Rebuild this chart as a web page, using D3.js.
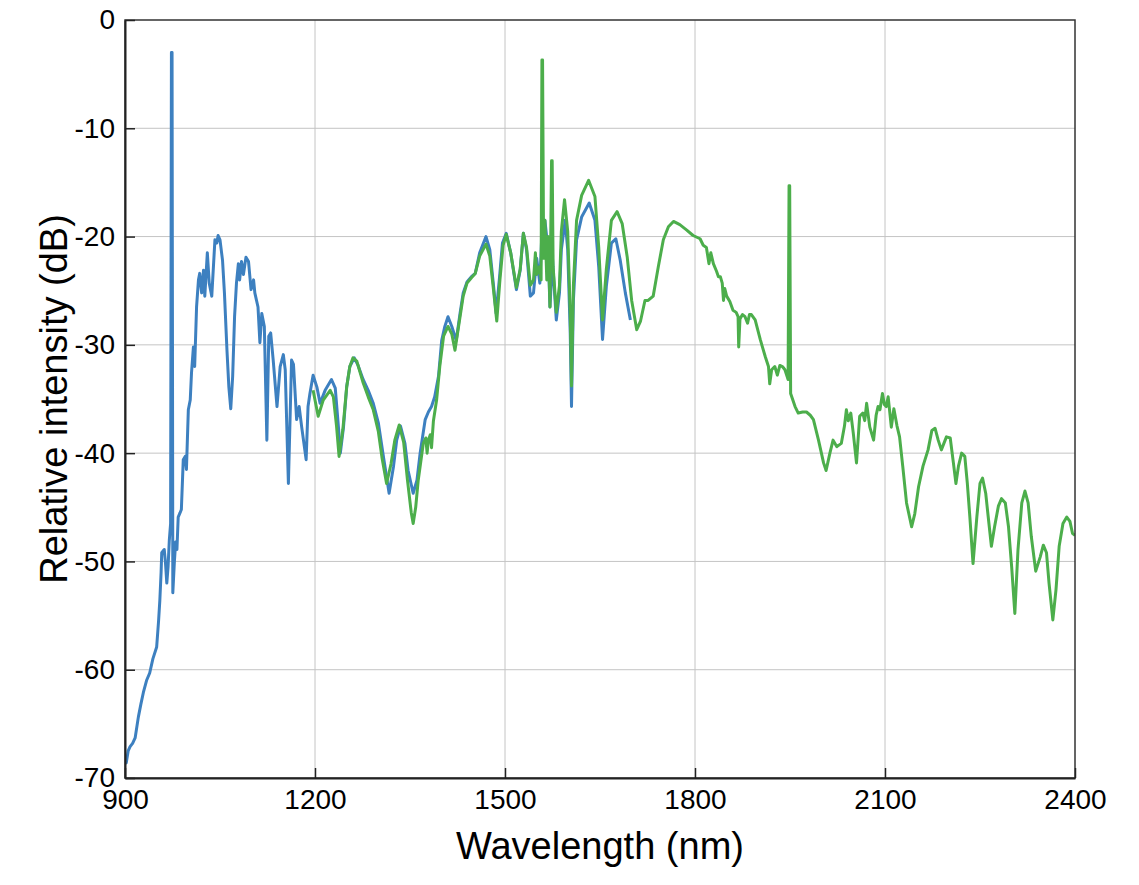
<!DOCTYPE html>
<html lang="en">
<head>
<meta charset="UTF-8">
<title>Spectrum</title>
<style>
  body { margin: 0; background: #fff; }
  svg { font-family: "Liberation Sans", Arial, Helvetica, sans-serif; }
</style>
</head>
<body>
<svg width="1139" height="885"></svg>
<script src="https://cdn.jsdelivr.net/npm/d3@7"></script>
<script>
// wavelength (nm), relative intensity (dB)
var blueSpectrum = [
  [900,-68.3],[902,-68.6],[905,-67.5],[908,-67.1],[912,-66.8],[916,-66.3],[921,-64.4],[925,-63.2],[929,-62.1],[934,-61.0],
  [939,-60.3],[944,-59.0],[950,-57.9],[953,-55.5],[955,-53.6],[957,-51.0],[958,-49.2],[962,-48.9],[964,-50.2],[966,-52.0],
  [968,-50.5],[970,-48.0],[972,-46.5],[973.3,-3],[974.3,-3],[975.5,-52.9],[978,-50.0],[980,-48.2],[982,-48.9],[984,-45.9],
  [987,-45.5],[989,-45.2],[992,-40.6],[995,-40.3],[997,-41.5],[1000,-36.0],[1003,-35.1],[1005,-32.6],[1008,-30.2],[1010,-32.0],
  [1013,-26.5],[1016,-24.0],[1018,-23.4],[1021,-25.2],[1024,-23.1],[1026,-25.5],[1030,-21.5],[1033,-24.3],[1037,-25.5],[1042,-20.3],
  [1045,-20.6],[1047,-19.9],[1050,-20.3],[1054,-22.2],[1057,-25.2],[1061,-30.5],[1064,-33.9],[1067,-35.9],[1070,-32.9],[1073,-27.4],
  [1076,-24.3],[1079,-22.5],[1081,-24.0],[1084,-22.3],[1087,-23.5],[1091,-21.9],[1095,-22.3],[1099,-24.9],[1103,-24.0],[1105,-25.2],
  [1110,-26.5],[1113,-29.8],[1116,-27.1],[1120,-28.3],[1124,-38.8],[1127,-29.2],[1130,-28.9],[1134,-31.4],[1140,-35.7],[1145,-32.0],
  [1150,-30.9],[1153,-32.3],[1158,-42.8],[1163,-31.4],[1166,-31.8],[1171,-36.9],[1175,-35.7],[1179,-37.6],[1186,-40.6],[1189,-35.7],
  [1192,-34.5],[1197,-32.8],[1203,-33.9],[1208,-35.4],[1216,-34.2],[1226,-33.2],[1232,-34.0],[1237,-37.6],[1240,-40.0],[1245,-37.6],
  [1250,-33.9],[1255,-32.0],[1262,-31.2],[1268,-31.9],[1276,-33.2],[1284,-34.2],[1292,-35.4],[1300,-37.2],[1308,-40.3],[1317,-43.7],
  [1324,-41.2],[1329,-38.8],[1335,-37.5],[1342,-39.1],[1347,-41.6],[1355,-43.7],[1361,-42.5],[1366,-40.0],[1374,-36.9],[1379,-36.2],
  [1384,-35.7],[1389,-34.8],[1395,-32.9],[1400,-29.6],[1405,-28.3],[1410,-27.4],[1416,-28.3],[1423,-29.6],[1429,-27.1],[1434,-25.2],
  [1440,-24.2],[1447,-23.7],[1453,-23.4],[1460,-21.5],[1470,-20.0],[1476,-21.2],[1482,-24.6],[1486,-27.1],[1491,-24.0],[1496,-20.6],
  [1502,-19.7],[1509,-21.5],[1518,-24.9],[1524,-23.1],[1529,-19.7],[1534,-21.2],[1540,-25.5],[1545,-25.2],[1550,-22.0],[1555,-24.3],
  [1558,-20.0],[1563,-18.5],[1568,-21.2],[1571,-26.5],[1575,-22.0],[1577,-24.0],[1581,-27.7],[1586,-25.2],[1589,-21.2],[1595,-18.5],
  [1599,-21.2],[1603,-28.9],[1605,-35.7],[1608,-25.9],[1613,-20.3],[1621,-18.2],[1633,-16.9],[1642,-18.5],[1648,-22.8],[1654,-29.5],
  [1660,-24.6],[1668,-20.6],[1675,-20.2],[1682,-22.2],[1690,-25.2],[1698,-27.7]
];

var greenSpectrum = [
  [1197,-34.2],[1205,-36.6],[1213,-35.1],[1224,-34.2],[1229,-34.8],[1234,-37.5],[1238,-40.3],[1244,-37.8],[1250,-33.9],[1255,-32.0],
  [1260,-31.2],[1266,-31.5],[1276,-33.5],[1284,-34.8],[1292,-36.0],[1300,-38.0],[1306,-40.5],[1313,-42.8],[1320,-41.0],[1326,-38.8],
  [1333,-37.4],[1340,-39.0],[1346,-42.5],[1352,-45.5],[1355,-46.5],[1359,-45.0],[1363,-42.5],[1371,-39.1],[1375,-38.6],[1377,-40.0],
  [1379,-38.8],[1382,-38.3],[1384,-39.5],[1387,-37.0],[1392,-35.1],[1397,-32.0],[1403,-29.2],[1410,-28.3],[1416,-29.0],[1421,-30.5],
  [1428,-27.8],[1434,-25.5],[1440,-24.3],[1447,-23.8],[1453,-23.4],[1460,-21.8],[1470,-20.7],[1476,-21.8],[1482,-25.0],[1487,-27.8],
  [1492,-24.0],[1497,-20.8],[1502,-19.8],[1509,-21.5],[1518,-24.7],[1524,-23.0],[1529,-19.7],[1534,-21.0],[1540,-24.5],[1545,-24.0],
  [1548,-21.5],[1550,-23.5],[1554,-22.8],[1557,-24.0],[1558.3,-3.7],[1559.3,-3.7],[1561,-22.0],[1563,-18.5],[1566,-24.0],[1568,-20.0],
  [1571,-26.5],[1573.5,-13.0],[1574.5,-13.0],[1576,-22.8],[1581,-27.0],[1586,-24.5],[1589,-19.5],[1594,-16.6],[1599,-19.5],[1603,-27.0],
  [1605,-33.8],[1608,-24.5],[1613,-18.5],[1621,-16.2],[1632,-14.8],[1642,-16.3],[1648,-21.0],[1654,-27.7],[1660,-23.0],[1668,-18.5],
  [1677,-17.7],[1685,-18.8],[1693,-21.9],[1700,-25.9],[1708,-28.6],[1714,-27.8],[1721,-25.9],[1726,-25.9],[1734,-25.5],[1742,-22.8],
  [1750,-20.3],[1758,-19.1],[1766,-18.6],[1776,-18.9],[1787,-19.4],[1797,-19.9],[1808,-20.2],[1813,-20.8],[1818,-21.0],[1822,-22.5],
  [1825,-21.5],[1829,-22.5],[1834,-23.2],[1837,-23.7],[1840,-23.7],[1843,-24.3],[1845,-25.9],[1847,-24.8],[1850,-25.5],[1855,-26.0],
  [1860,-26.8],[1865,-27.0],[1868,-27.4],[1869,-30.2],[1871,-27.6],[1875,-27.2],[1879,-27.4],[1883,-28.0],[1886,-27.2],[1889,-27.2],
  [1895,-27.7],[1899,-28.6],[1903,-29.5],[1907,-30.3],[1911,-31.1],[1916,-32.0],[1918,-33.6],[1921,-32.3],[1926,-32.0],[1930,-32.8],
  [1934,-31.9],[1938,-32.0],[1942,-32.3],[1947,-33.2],[1948.5,-15.3],[1949.5,-15.3],[1951,-34.5],[1958,-35.7],[1963,-36.3],[1970,-36.2],
  [1976,-36.2],[1982,-36.5],[1987,-36.9],[1995,-38.8],[2003,-40.9],[2007,-41.6],[2013,-40.0],[2018,-38.8],[2024,-39.4],[2031,-39.1],
  [2036,-37.5],[2039,-36.0],[2042,-37.0],[2046,-36.3],[2050,-38.2],[2055,-40.9],[2060,-36.6],[2065,-36.3],[2068,-37.0],[2071,-35.4],
  [2076,-37.6],[2082,-38.8],[2086,-36.5],[2089,-35.7],[2092,-36.0],[2096,-34.5],[2099,-35.5],[2102,-35.7],[2105,-34.8],[2110,-37.6],
  [2114,-35.9],[2119,-37.5],[2123,-38.5],[2128,-41.2],[2134,-44.6],[2142,-46.8],[2147,-45.6],[2153,-43.1],[2160,-41.2],[2168,-39.7],
  [2174,-37.9],[2179,-37.7],[2184,-38.8],[2189,-39.7],[2197,-38.5],[2203,-38.6],[2208,-40.9],[2212,-42.8],[2216,-41.2],[2221,-40.0],
  [2226,-40.3],[2230,-42.8],[2234,-45.9],[2239,-50.2],[2245,-45.9],[2250,-42.8],[2254,-42.3],[2259,-43.7],[2263,-45.9],[2268,-48.6],
  [2273,-46.8],[2279,-44.9],[2284,-44.2],[2290,-44.6],[2295,-46.8],[2300,-50.5],[2305,-54.8],[2310,-48.9],[2316,-44.6],[2321,-43.5],
  [2326,-44.6],[2331,-47.7],[2338,-50.9],[2345,-49.6],[2350,-48.5],[2355,-49.2],[2359,-52.0],[2365,-55.4],[2370,-52.6],[2375,-48.6],
  [2381,-46.5],[2387,-45.9],[2392,-46.3],[2396,-47.4],[2400,-47.6]
];

var xTicks = [900, 1200, 1500, 1800, 2100, 2400];
var yTicks = [0, -10, -20, -30, -40, -50, -60, -70];

var svg = d3.select("svg");
var margin = {left: 125, top: 20, right: 64, bottom: 107};
var width = svg.attr("width") - margin.left - margin.right;
var height = svg.attr("height") - margin.top - margin.bottom;

var x = d3.scaleLinear().domain([900, 2400]).range([0, width]);
var y = d3.scaleLinear().domain([-70, 0]).range([height, 0]);

var g = svg.append("g").attr("transform", "translate(" + margin.left + "," + margin.top + ")");

g.append("defs").append("clipPath").attr("id", "plotclip")
  .append("rect").attr("width", width).attr("height", height);

// grid
g.append("g").selectAll("line").data(xTicks.slice(1, -1)).enter().append("line")
  .attr("x1", function (d) { return x(d); }).attr("x2", function (d) { return x(d); })
  .attr("y1", 0).attr("y2", height)
  .attr("stroke", "#c4c4c4").attr("stroke-width", 1);
g.append("g").selectAll("line").data(yTicks.slice(1, -1)).enter().append("line")
  .attr("y1", function (d) { return y(d); }).attr("y2", function (d) { return y(d); })
  .attr("x1", 0).attr("x2", width)
  .attr("stroke", "#c4c4c4").attr("stroke-width", 1);

var line = d3.line()
  .x(function (d) { return x(d[0]); })
  .y(function (d) { return y(d[1]); });

var curves = g.append("g").attr("clip-path", "url(#plotclip)");
curves.append("path").datum(blueSpectrum)
  .attr("d", line).attr("fill", "none")
  .attr("stroke", "#3d80c0").attr("stroke-width", 3).attr("stroke-linejoin", "round");
curves.append("path").datum(greenSpectrum)
  .attr("d", line).attr("fill", "none")
  .attr("stroke", "#4cae4b").attr("stroke-width", 3).attr("stroke-linejoin", "round");

// frame
g.append("rect").attr("width", width).attr("height", height)
  .attr("fill", "none").attr("stroke", "#333").attr("stroke-width", 1.5);

// axes with inward ticks
var fmt = function (d) { return String(d); };
var xAxis = g.append("g")
  .attr("transform", "translate(0," + height + ")")
  .call(d3.axisBottom(x).tickValues(xTicks).tickFormat(fmt).tickSizeInner(-10).tickSizeOuter(0).tickPadding(11));
var yAxis = g.append("g")
  .call(d3.axisLeft(y).tickValues(yTicks).tickFormat(fmt).tickSizeInner(-10).tickSizeOuter(0).tickPadding(10));

[xAxis, yAxis].forEach(function (a) {
  a.select(".domain").attr("stroke", "#222").attr("stroke-width", 2);
  a.selectAll(".tick line").attr("stroke", "#222").attr("stroke-width", 1.5);
  a.selectAll(".tick text").attr("fill", "#000").style("font-size", "28px")
    .style("font-family", "'Liberation Sans', Arial, sans-serif");
});

svg.append("text")
  .attr("x", margin.left + width / 2).attr("y", 859)
  .attr("text-anchor", "middle").style("font-size", "38px")
  .text("Wavelength (nm)");

svg.append("text")
  .attr("transform", "translate(67," + (margin.top + height / 2) + ") rotate(-90)")
  .attr("text-anchor", "middle").style("font-size", "38px")
  .text("Relative intensity (dB)");
</script>
</body>
</html>
